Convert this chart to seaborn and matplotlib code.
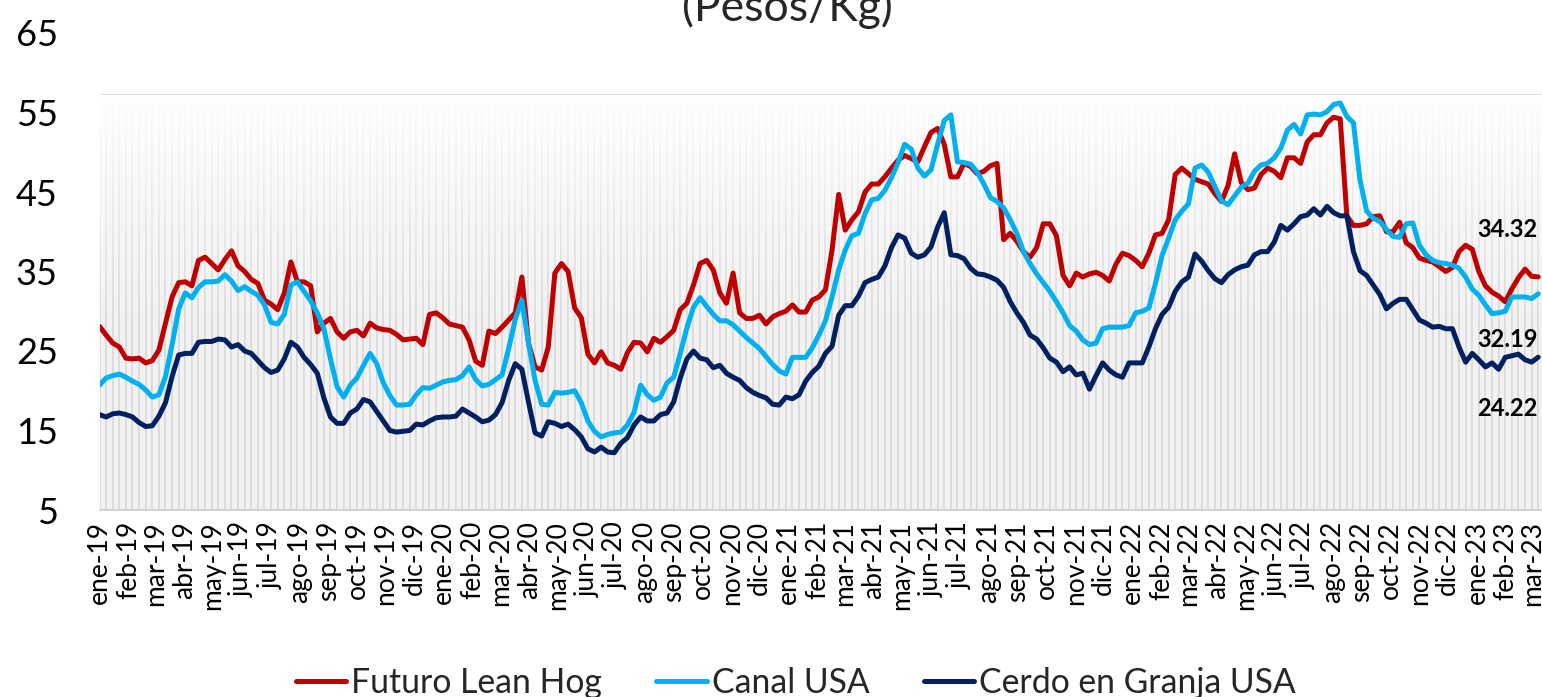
import numpy as np
import pandas as pd
import matplotlib
matplotlib.use("Agg")
import matplotlib.pyplot as plt
import matplotlib.dates as mdates
from matplotlib.lines import Line2D
import seaborn as sns

# weekly prices (Pesos/Kg), first week starting 2019-01-01
start_date = "2019-01-01"

futuro_lean_hog = [
    28.1, 27.0, 26.0, 25.5, 24.1, 24.0, 24.1, 23.5, 23.8, 25.1,
    28.5, 31.8, 33.6, 33.7, 33.2, 36.4, 36.8, 36.0, 35.2, 36.5,
    37.6, 35.7, 35.0, 34.0, 33.5, 31.4, 30.9, 30.2, 32.3, 36.2,
    33.7, 33.7, 33.2, 27.4, 28.5, 29.1, 27.4, 26.6, 27.4, 27.6,
    26.9, 28.5, 27.9, 27.7, 27.6, 27.1, 26.4, 26.5, 26.6, 25.8,
    29.6, 29.8, 29.2, 28.4, 28.2, 28.0, 26.4, 23.7, 23.2, 27.5,
    27.2, 28.0, 28.9, 29.8, 34.3, 26.0, 23.0, 22.6, 25.5, 34.8,
    36.0, 35.0, 30.4, 29.2, 24.6, 23.5, 24.9, 23.5, 23.2, 22.7,
    24.8, 26.1, 26.0, 24.9, 26.6, 26.1, 26.8, 27.6, 30.2, 31.0,
    33.3, 36.0, 36.4, 35.2, 32.3, 31.0, 34.8, 29.8, 29.1, 29.1,
    29.5, 28.4, 29.3, 29.7, 30.0, 30.8, 29.9, 29.9, 31.4, 31.8,
    32.7, 37.7, 44.7, 40.2, 41.5, 42.5, 45.0, 46.0, 46.0, 46.9,
    48.0, 49.0, 49.6, 49.2, 48.8, 50.7, 52.5, 53.0, 51.0, 46.9,
    46.9, 48.6, 48.2, 47.3, 47.6, 48.3, 48.6, 39.0, 39.8, 38.8,
    37.5, 36.8, 38.0, 41.0, 41.0, 39.5, 34.5, 33.2, 34.8, 34.3,
    34.7, 34.9, 34.5, 33.8, 35.9, 37.3, 37.0, 36.4, 35.6, 37.3,
    39.6, 39.8, 41.5, 47.2, 48.0, 47.3, 46.6, 46.3, 46.0, 44.8,
    43.8, 45.8, 49.8, 46.2, 45.3, 45.5, 47.2, 48.0, 47.6, 46.8,
    49.3, 49.3, 48.6, 51.3, 52.2, 52.2, 53.7, 54.4, 54.2, 42.0,
    40.8, 40.8, 41.0, 41.9, 42.0, 40.0, 40.0, 41.2, 38.6, 38.0,
    36.7, 36.4, 36.2, 35.6, 35.0, 35.5, 37.5, 38.3, 37.8, 35.0,
    33.2, 32.4, 31.9, 31.2, 32.8, 34.2, 35.3, 34.4, 34.32,
]

canal_usa = [
    20.7, 21.6, 21.9, 22.1, 21.7, 21.2, 20.8, 20.1, 19.2, 19.5,
    21.8, 25.8, 30.3, 32.3, 31.7, 33.0, 33.7, 33.7, 33.8, 34.6,
    33.8, 32.6, 33.1, 32.5, 32.0, 30.8, 28.6, 28.4, 29.6, 33.3,
    33.7, 32.5, 31.3, 29.8, 27.8, 24.0, 20.5, 19.2, 20.7, 21.6,
    23.2, 24.7, 23.4, 21.0, 19.4, 18.2, 18.2, 18.3, 19.5, 20.4,
    20.3, 20.7, 21.1, 21.3, 21.4, 21.9, 23.0, 21.4, 20.6, 20.8,
    21.4, 22.0, 25.3, 29.0, 31.4, 26.0, 21.3, 18.3, 18.2, 19.8,
    19.7, 19.8, 20.0, 18.5, 16.2, 14.9, 14.2, 14.5, 14.7, 14.8,
    15.7, 17.3, 20.7, 19.5, 18.8, 19.2, 21.0, 21.7, 24.7, 27.9,
    30.5, 31.7, 30.6, 29.6, 28.8, 28.8, 28.3, 27.5, 26.7, 26.0,
    25.3, 24.3, 23.3, 22.5, 22.1, 24.2, 24.2, 24.2, 25.4, 27.0,
    28.8, 31.8, 35.2, 37.7, 39.5, 39.8, 42.3, 44.0, 44.2, 45.2,
    46.8, 48.7, 51.0, 50.4, 48.0, 47.0, 47.8, 51.0, 54.0, 54.7,
    48.8, 48.7, 48.5, 47.5, 46.0, 44.3, 43.8, 43.0, 41.5, 39.8,
    37.5, 36.0, 34.7, 33.6, 32.5, 31.2, 29.8, 28.2, 27.5, 26.4,
    25.8, 26.0, 27.8, 28.0, 28.0, 28.0, 28.2, 29.8, 30.0, 30.4,
    33.5, 37.0, 39.2, 41.5, 42.6, 43.5, 48.0, 48.4, 47.5, 45.7,
    43.9, 43.4, 44.5, 45.6, 46.1, 47.6, 48.4, 48.6, 49.3, 50.5,
    52.8, 53.5, 52.3, 54.7, 54.8, 54.7, 55.1, 56.0, 56.2, 54.5,
    53.7, 46.5, 42.6, 41.7, 41.3, 40.3, 39.4, 39.3, 41.0, 41.1,
    38.3, 37.1, 36.4, 36.1, 36.0, 35.8, 35.4, 34.3, 32.8, 32.0,
    30.8, 29.7, 29.8, 30.0, 31.8, 31.8, 31.8, 31.6, 32.19,
]

cerdo_granja_usa = [
    17.0, 16.7, 17.1, 17.2, 17.0, 16.7, 16.0, 15.5, 15.6, 16.8,
    18.5, 21.8, 24.5, 24.7, 24.7, 26.1, 26.2, 26.2, 26.5, 26.4,
    25.5, 25.8, 25.0, 24.7, 23.8, 22.9, 22.3, 22.6, 24.0, 26.1,
    25.5, 24.2, 23.3, 22.2, 19.1, 16.7, 15.9, 15.9, 17.2, 17.7,
    18.9, 18.6, 17.4, 16.2, 15.0, 14.8, 14.9, 15.0, 15.8, 15.7,
    16.2, 16.6, 16.7, 16.7, 16.8, 17.7, 17.2, 16.7, 16.1, 16.3,
    17.0, 18.5, 21.3, 23.4, 22.7, 18.6, 14.7, 14.3, 16.1, 15.9,
    15.5, 15.8, 15.1, 14.2, 12.7, 12.3, 12.9, 12.3, 12.2, 13.4,
    14.1, 15.7, 16.7, 16.2, 16.2, 17.0, 17.2, 18.6, 21.6, 24.0,
    25.0, 24.1, 23.9, 22.9, 23.2, 22.2, 21.7, 21.3, 20.4, 19.8,
    19.4, 19.1, 18.3, 18.2, 19.2, 19.0, 19.5, 21.2, 22.3, 23.1,
    24.7, 25.6, 29.5, 30.7, 30.7, 31.9, 33.6, 34.0, 34.3, 35.7,
    38.0, 39.6, 39.2, 37.3, 36.8, 37.1, 38.1, 40.6, 42.4, 37.1,
    37.0, 36.6, 35.4, 34.7, 34.6, 34.3, 33.9, 33.0, 31.2, 29.8,
    28.6, 27.0, 26.5, 25.4, 24.1, 23.6, 22.4, 23.0, 22.0, 22.2,
    20.2, 21.9, 23.5, 22.6, 22.0, 21.7, 23.5, 23.5, 23.5, 25.5,
    27.8, 29.6, 30.5, 32.5, 33.7, 34.3, 37.2, 36.3, 35.1, 34.1,
    33.6, 34.6, 35.2, 35.6, 35.8, 37.1, 37.5, 37.5, 38.7, 40.8,
    40.2, 41.0, 41.9, 42.1, 42.9, 42.1, 43.2, 42.4, 42.0, 42.0,
    37.5, 35.1, 34.5, 33.3, 32.1, 30.3, 31.0, 31.5, 31.5, 30.2,
    28.9, 28.5, 28.0, 28.1, 27.8, 27.8, 25.5, 23.6, 24.7, 23.9,
    23.0, 23.5, 22.7, 24.2, 24.4, 24.6, 23.9, 23.6, 24.22,
]

series_names = ["Futuro Lean Hog", "Canal USA", "Cerdo en Granja USA"]
series_colors = ["#C00000", "#00B0F0", "#002060"]
label_offsets = [(-61, 47), (-61, -46), (-61, -51)]  # pixels from last point
month_names = ["ene", "feb", "mar", "abr", "may", "jun",
               "jul", "ago", "sep", "oct", "nov", "dic"]
shade_level = 57.2
y_min, y_max = 5, 65

dates = pd.date_range(start_date, periods=len(futuro_lean_hog), freq="7D")
wide = pd.DataFrame({"fecha": dates,
                     series_names[0]: futuro_lean_hog,
                     series_names[1]: canal_usa,
                     series_names[2]: cerdo_granja_usa})
df = wide.melt(id_vars="fecha", var_name="serie", value_name="precio")

sns.set_style("white")
plt.rcParams["font.family"] = ["Lato", "DejaVu Sans"]
plt.rcParams["lines.solid_joinstyle"] = "round"
plt.rcParams["lines.solid_capstyle"] = "round"

W, H = 1542, 697
fig = plt.figure(figsize=(W / 100, H / 100), dpi=100)
ax_left, ax_right, ax_bottom, ax_top = 99.5, 1575, 510, 33
ax = fig.add_axes([ax_left / W, (H - ax_bottom) / H,
                   (ax_right - ax_left) / W, (ax_bottom - ax_top) / H])

x0 = pd.Timestamp(start_date)
px_per_day = 0.9428
x1 = x0 + pd.Timedelta(days=(ax_right - ax_left) / px_per_day)

# weekly background columns, fading to white towards the top
ax.bar(dates, shade_level - y_min, bottom=y_min, width=7, align="edge",
       facecolor="#f2f2f2", edgecolor="#d9d9d9", linewidth=1.1, zorder=1)
frac = np.linspace(1, 0, 256)
alpha = np.clip((frac - 0.42) / 0.58, 0, 1) ** 1.2 * 0.98
grad = np.ones((256, 2, 4))
grad[:, :, 3] = alpha[:, None]
ax.imshow(grad, extent=[mdates.date2num(x0), mdates.date2num(x1), y_min, shade_level],
          aspect="auto", zorder=2, interpolation="bilinear")

sns.lineplot(data=df, x="fecha", y="precio", hue="serie", hue_order=series_names,
             palette=series_colors, linewidth=3.6, legend=False, ax=ax, zorder=3)

for name, off in zip(series_names, label_offsets):
    last = wide[name].iloc[-1]
    ax.annotate(f"{last:.2f}", xy=(dates[-1], last), xytext=off,
                textcoords="offset pixels", ha="left", va="center",
                fontsize=17, fontweight="bold", color="black", zorder=5)

ax.set_xlim(x0, x1)
ax.set_ylim(y_min, y_max)
ax.set_yticks(np.arange(y_min, y_max + 1, 10))
ax.set_xlabel("")
ax.set_ylabel("")

ax.xaxis.set_major_locator(mdates.MonthLocator())
ax.xaxis.set_major_formatter(plt.FuncFormatter(
    lambda v, p: f"{month_names[mdates.num2date(v).month - 1]}-{mdates.num2date(v).year % 100:02d}"))
ax.tick_params(axis="x", labelsize=19, rotation=90, length=6, width=1.2,
               color="#d3d3d3", pad=2, labelcolor="black")
ax.tick_params(axis="y", labelsize=26, length=0, pad=30, labelcolor="black")

for side in ["top", "right", "left"]:
    ax.spines[side].set_visible(False)
ax.spines["bottom"].set_color("#d3d3d3")
ax.spines["bottom"].set_linewidth(1.5)
ax.spines["bottom"].set_zorder(4)

fig.text(787 / W, (H - 21) / H, "(Pesos/Kg)", ha="center", va="baseline", fontsize=32)

handles = [Line2D([], [], color=c, linewidth=3.6) for c in series_colors]
fig.legend(handles, series_names, loc="center", bbox_to_anchor=(796 / W, 14 / H),
           ncol=3, frameon=False, fontsize=24.3, handlelength=1.5,
           handletextpad=0.15, columnspacing=1.6)

fig.savefig("out.png", dpi=100)
